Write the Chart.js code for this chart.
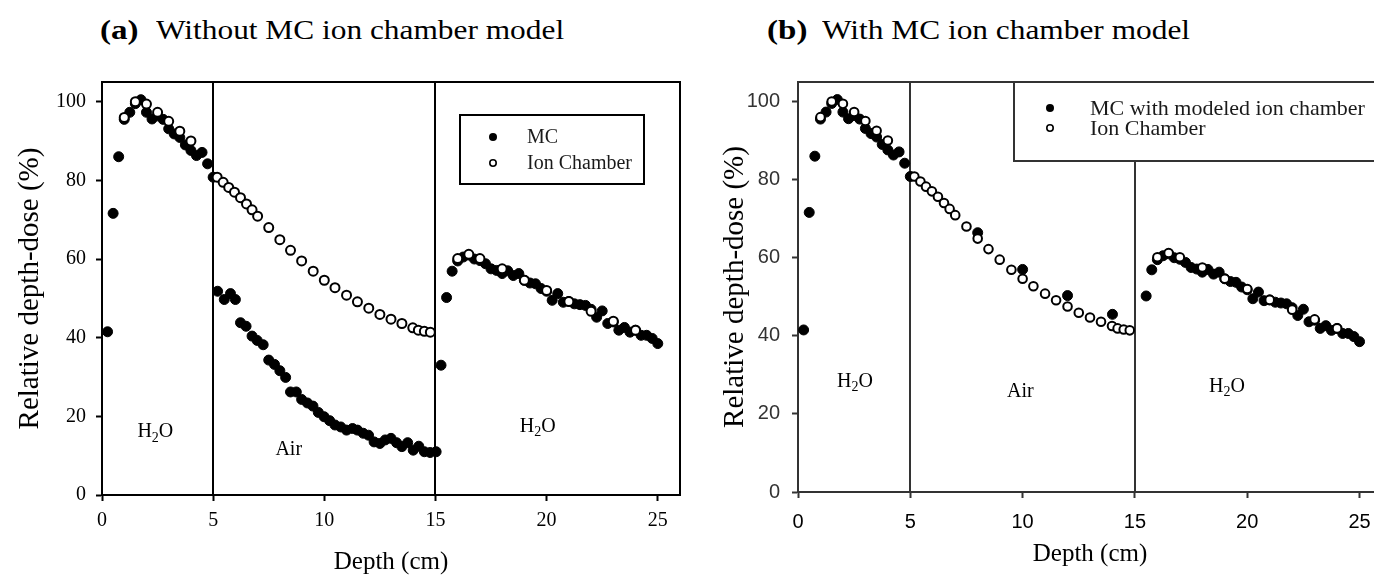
<!DOCTYPE html>
<html>
<head>
<meta charset="utf-8">
<script src="https://cdn.jsdelivr.net/npm/chart.js@4.4.1/dist/chart.umd.min.js"></script>
<style>
  html, body { margin: 0; padding: 0; background: #fff; width: 1374px; height: 580px; overflow: hidden; }
  body { position: relative; }
  canvas { position: absolute; top: 0; }
  .ttl { position: absolute; top: 14px; font-family: "Liberation Serif", "Times New Roman", serif; font-size: 28px; color: #000; white-space: nowrap; }
  .ttl b { position: absolute; top: 0; font-weight: bold; display: inline-block; transform-origin: left center; transform: scaleX(1.18); }
  .ttl span { position: absolute; top: 0; display: inline-block; transform-origin: left center; transform: scaleX(1.12); }
</style>
</head>
<body>
<div class="ttl" style="left:100px"><b style="left:0">(a)</b><span style="left:56px">Without MC ion chamber model</span></div>
<div class="ttl" style="left:767px"><b style="left:0">(b)</b><span style="left:55px">With MC ion chamber model</span></div>
<canvas id="chartA" width="690" height="580" style="left:0"></canvas>
<canvas id="chartB" width="700" height="580" style="left:690px"></canvas>
<script>
// ion chamber measurement (same in both panels)
const ionDepth = [1.0, 1.5, 2.0, 2.5, 3.0, 3.5, 4.0,
  5.18, 5.45, 5.7, 5.96, 6.23, 6.5, 6.75, 7.0, 7.5, 8.0, 8.48, 8.98, 9.5, 10.0,
  10.48, 11.0, 11.49, 12.0, 12.5, 13.0, 13.49, 13.98, 14.23, 14.5, 14.77,
  16.0, 16.5, 17.0, 18.0, 19.0, 20.0, 21.0, 22.0, 23.0, 24.0];
const ionDose = [96, 100, 99.4, 97.3, 95, 92.5, 90,
  80.8, 79.5, 78.2, 77, 75.6, 74, 72.5, 70.9, 68, 64.9, 62.2, 59.5, 56.9, 54.6,
  52.7, 50.8, 49.1, 47.5, 45.9, 44.7, 43.6, 42.5, 41.9, 41.6, 41.4,
  60.1, 61.2, 60.1, 57.5, 54.6, 52, 49.2, 46.7, 44.2, 41.9];

// MC in water, first slab (0-5 cm)
const mcWater1Depth = [0.25, 0.5, 0.75, 1.0, 1.25, 1.5, 1.75, 2.0, 2.25, 2.5,
  2.75, 3.0, 3.25, 3.5, 3.75, 4.0, 4.25, 4.5, 4.75, 5.0];
const mcWater1Dose = [41.5, 71.6, 86, 95.5, 97.3, 99.5, 100.5, 97.3, 95.6, 96.4,
  95.5, 93.1, 91.8, 90.9, 89, 87.6, 86.3, 87.1, 84.2, 80.8];

// MC in water, second slab (15-25 cm)
const mcWater2Depth = [15.5, 15.75, 16.0, 16.25, 16.5, 16.75, 17.0, 17.25, 17.5,
  17.75, 18.0, 18.25, 18.5, 18.75, 19.0, 19.25, 19.5, 19.75, 20.0,
  20.25, 20.5, 20.75, 21.0, 21.25, 21.5, 21.75, 22.0, 22.25, 22.5,
  22.75, 23.0, 23.25, 23.5, 23.75, 24.0, 24.25, 24.5, 24.75, 25.0];
const mcWater2Dose = [50.2, 56.9, 59.5, 60.5, 61, 60, 59.6, 58.8, 57.5,
  57.1, 56.3, 57, 55.8, 56.3, 54.6, 53.9, 53.7, 52.5, 51.8,
  49.5, 51.2, 49, 49.2, 48.6, 48.4, 48.2, 47.2, 45.2, 46.8,
  43.6, 44, 41.9, 42.6, 41.4, 41.9, 40.6, 40.6, 39.8, 38.5];

// MC in the air gap, panel (a): no chamber model (last point sits just past 15 cm)
const mcAirDepthA = [5.2, 5.5, 5.78, 6.0, 6.23, 6.48, 6.75, 6.98, 7.25, 7.5,
  7.76, 8.0, 8.26, 8.48, 8.74, 8.98, 9.24, 9.49, 9.73, 9.99,
  10.24, 10.48, 10.74, 11.0, 11.27, 11.49, 11.75, 11.99, 12.24, 12.5,
  12.74, 13.0, 13.25, 13.49, 13.75, 14.0, 14.25, 14.5, 14.76, 15.03, 15.25];
const mcAirDoseA = [51.8, 49.7, 51.2, 49.7, 43.8, 42.9, 40.4, 39.3, 38.2, 34.3,
  33.2, 31.6, 29.9, 26.2, 26.2, 24.3, 23.4, 22.6, 21, 19.9,
  18.9, 17.8, 17.3, 16.5, 16.9, 16.5, 15.7, 15.2, 13.5, 13.1,
  14, 14.4, 13.3, 12.3, 13.3, 11.4, 12.4, 11, 10.8, 11, 33];

// MC in the air gap, panel (b): with modeled ion chamber
const mcAirDepthB = [8.0, 10.0, 12.0, 14.0];
const mcAirDoseB = [66.4, 57, 50.3, 45.5];

const interfaces = [5, 15];
const xTicks = [0, 5, 10, 15, 20, 25];
const yTicks = [0, 20, 40, 60, 80, 100];

function toPoints(xs, ys) {
  return xs.map((d, i) => ({ x: d, y: ys[i] }));
}

// vertical interface lines, frame, region labels and the boxed legend
const overlay = {
  id: 'overlay',
  beforeDatasetsDraw(chart, args, opts) {
    const { ctx, chartArea: a, scales: { x } } = chart;
    ctx.save();
    ctx.strokeStyle = opts.lineColor;
    ctx.lineWidth = 2;
    interfaces.forEach(d => {
      const px = Math.round(x.getPixelForValue(d));
      ctx.beginPath();
      ctx.moveTo(px, a.top);
      ctx.lineTo(px, a.bottom);
      ctx.stroke();
    });
    ctx.strokeRect(a.left, a.top, a.right - a.left, a.bottom - a.top);
    ctx.restore();
  },
  afterDatasetsDraw(chart, args, opts) {
    const { ctx, scales: { x, y } } = chart;
    ctx.save();
    ctx.fillStyle = '#000';
    ctx.textBaseline = 'alphabetic';
    const fs = opts.regionSize;
    const serif = '"Liberation Serif", serif';
    opts.regions.forEach(r => {
      let px = x.getPixelForValue(r.x);
      const py = y.getPixelForValue(r.y) + fs * 0.35;
      ctx.font = fs + 'px ' + serif;
      if (r.text === 'H2O') {
        const small = Math.round(fs * 0.72);
        const wH = ctx.measureText('H').width;
        const wO = ctx.measureText('O').width;
        ctx.font = small + 'px ' + serif;
        const w2 = ctx.measureText('2').width;
        px -= (wH + w2 + wO) / 2;
        ctx.textAlign = 'left';
        ctx.font = fs + 'px ' + serif;
        ctx.fillText('H', px, py);
        ctx.font = small + 'px ' + serif;
        ctx.fillText('2', px + wH, py + fs * 0.22);
        ctx.font = fs + 'px ' + serif;
        ctx.fillText('O', px + wH + w2, py);
      } else {
        ctx.textAlign = 'center';
        ctx.fillText(r.text, px, py);
      }
    });

    // legend box
    const lg = opts.legend;
    ctx.fillStyle = '#fff';
    ctx.fillRect(lg.left, lg.top, lg.width, lg.height);
    ctx.strokeStyle = opts.lineColor;
    ctx.lineWidth = 2;
    ctx.strokeRect(lg.left, lg.top, lg.width, lg.height);
    ctx.font = lg.fontSize + 'px ' + serif;
    ctx.textAlign = 'left';
    ctx.textBaseline = 'middle';
    [1, 0].forEach((di, row) => {
      const ds = chart.data.datasets[di];
      const cy = lg.rowY[row];
      ctx.beginPath();
      if (di === 1) {
        ctx.fillStyle = '#000';
        ctx.arc(lg.markerX, cy, lg.dot, 0, Math.PI * 2);
        ctx.fill();
      } else {
        ctx.strokeStyle = '#000';
        ctx.lineWidth = 1.6;
        ctx.arc(lg.markerX, cy, lg.dot - 0.8, 0, Math.PI * 2);
        ctx.stroke();
      }
      ctx.fillStyle = '#1a1a1a';
      ctx.fillText(ds.label, lg.textX, cy + 1);
    });
    ctx.restore();
  }
};

function makeChart(id, p) {
  return new Chart(document.getElementById(id), {
    type: 'scatter',
    data: {
      datasets: [
        {
          label: 'Ion Chamber',
          data: toPoints(ionDepth, ionDose),
          pointRadius: p.openR,
          pointBackgroundColor: '#fff',
          pointBorderColor: '#000',
          pointBorderWidth: 2,
          order: 0
        },
        {
          label: p.mcLabel,
          data: toPoints(p.mcDepth, p.mcDose),
          pointRadius: p.dotR,
          pointBackgroundColor: '#000',
          pointBorderColor: '#000',
          pointBorderWidth: 1,
          order: 1
        }
      ]
    },
    options: {
      responsive: false,
      animation: false,
      events: [],
      layout: { padding: p.padding },
      plugins: {
        legend: { display: false },
        tooltip: { enabled: false },
        overlay: {
          lineColor: p.lineColor,
          regions: p.regions,
          regionSize: 20,
          legend: p.legend
        }
      },
      scales: {
        x: {
          type: 'linear',
          min: 0,
          max: 26,
          afterFit: s => { s.height = p.xAxisH; },
          afterBuildTicks: s => { s.ticks = xTicks.map(v => ({ value: v })); },
          ticks: {
            font: { family: p.tickFamily, size: p.tickSize },
            color: '#000',
            padding: p.xTickPad,
            maxRotation: 0
          },
          grid: { display: true, drawOnChartArea: false, drawTicks: true, tickLength: 6, tickWidth: 2, tickColor: p.lineColor },
          border: { display: true, color: p.lineColor, width: 2 },
          title: {
            display: true,
            text: 'Depth (cm)',
            font: { family: '"Liberation Serif", serif', size: 25 },
            color: '#000',
            padding: { top: 0, bottom: p.xTitlePad }
          }
        },
        y: {
          type: 'linear',
          min: 0,
          max: 105,
          afterFit: s => { s.width = p.yAxisW; },
          afterBuildTicks: s => { s.ticks = yTicks.map(v => ({ value: v })); },
          ticks: {
            font: { family: p.tickFamily, size: p.tickSize },
            color: p.yTickColor,
            padding: p.yTickPad
          },
          grid: { display: true, drawOnChartArea: false, drawTicks: true, tickLength: 6, tickWidth: 2, tickColor: p.lineColor },
          border: { display: true, color: p.lineColor, width: 2 },
          title: {
            display: true,
            text: 'Relative depth-dose (%)',
            font: { family: '"Liberation Serif", serif', size: 29 },
            color: '#000',
            padding: { top: p.yTitlePad, bottom: 0 }
          }
        }
      }
    },
    plugins: [overlay]
  });
}

makeChart('chartA', {
  mcLabel: 'MC',
  mcDepth: mcWater1Depth.concat(mcAirDepthA, mcWater2Depth),
  mcDose: mcWater1Dose.concat(mcAirDoseA, mcWater2Dose),
  openR: 4.5,
  dotR: 5,
  lineColor: '#000',
  tickFamily: '"Liberation Serif", serif',
  tickSize: 20,
  yTickColor: '#000',
  xTickPad: 8,
  yTickPad: 10,
  xTitlePad: 3,
  yTitlePad: 0,
  xAxisH: 85,
  yAxisW: 89,
  padding: { left: 13, top: 82, right: 10, bottom: 0 },
  regions: [
    { text: 'H2O', x: 2.4, y: 16.5 },
    { text: 'Air', x: 8.4, y: 11.9 },
    { text: 'H2O', x: 19.6, y: 17.8 }
  ],
  legend: { left: 460, top: 115, width: 184, height: 69, markerX: 493, textX: 527, rowY: [137, 163], dot: 4, fontSize: 20 }
});

makeChart('chartB', {
  mcLabel: 'MC with modeled ion chamber',
  mcDepth: mcWater1Depth.concat(mcAirDepthB, mcWater2Depth),
  mcDose: mcWater1Dose.concat(mcAirDoseB, mcWater2Dose),
  openR: 4.3,
  dotR: 5,
  lineColor: '#333',
  tickFamily: '"Liberation Sans", Arial, sans-serif',
  tickSize: 20,
  yTickColor: '#333',
  xTickPad: 12,
  yTickPad: 12,
  xTitlePad: 11,
  yTitlePad: 5,
  xAxisH: 88,
  yAxisW: 85,
  padding: { left: 23, top: 82, right: 8, bottom: 0 },
  regions: [
    { text: 'H2O', x: 2.54, y: 28.7 },
    { text: 'Air', x: 9.9, y: 26.2 },
    { text: 'H2O', x: 19.1, y: 27.4 }
  ],
  legend: { left: 324, top: 82, width: 380, height: 79, markerX: 360, textX: 400, rowY: [108, 128], dot: 4, fontSize: 22 }
});
</script>
</body>
</html>
